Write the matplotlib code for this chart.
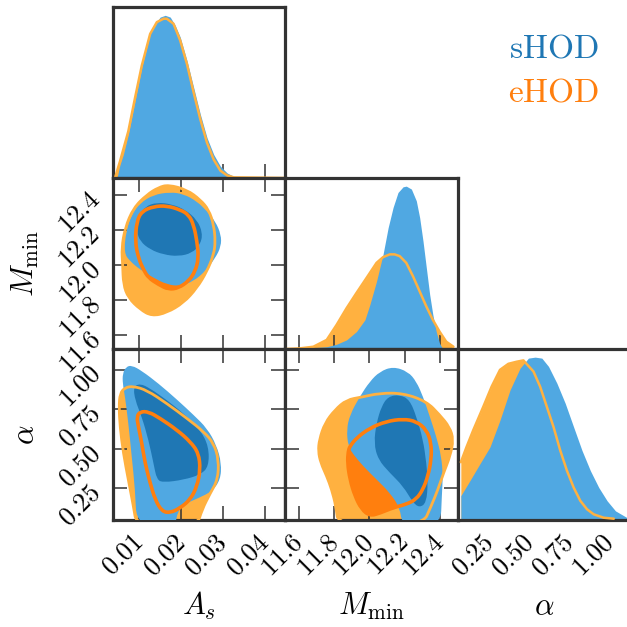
import matplotlib
matplotlib.use('Agg')
import matplotlib.pyplot as plt
from matplotlib.patches import PathPatch
from matplotlib.path import Path

plt.rcParams['mathtext.fontset'] = 'cm'
plt.rcParams['font.family'] = 'serif'
plt.rcParams['font.serif'] = ['DejaVu Serif']

# ---------------- data ----------------
param_labels = [r'$A_s$', r'$M_{\rm min}$', r'$\alpha$']
series_names = ['sHOD', 'eHOD']

as_ticks = [0.01, 0.02, 0.03, 0.04]
as_ticklabels = ['0.01', '0.02', '0.03', '0.04']
mmin_ticks = [11.6, 11.8, 12.0, 12.2, 12.4]
mmin_ticklabels = ['11.6', '11.8', '12.0', '12.2', '12.4']
alpha_ticks = [0.25, 0.50, 0.75, 1.00]
alpha_ticklabels = ['0.25', '0.50', '0.75', '1.00']
as_range = [0.0038, 0.0448]
mmin_range = [11.52, 12.50]
alpha_range = [0.05, 1.13]

# 1D marginals (normalised to peak = 1)
shod_as_x = [0.00483, 0.00547, 0.00626, 0.00745, 0.00905, 0.01064, 0.01183, 0.01263,
             0.01382, 0.01501, 0.01620, 0.01740, 0.01859, 0.01978, 0.02138, 0.02297,
             0.02456, 0.02615, 0.02774, 0.02933, 0.03092, 0.03251, 0.03490]
shod_as_p = [0.010, 0.082, 0.144, 0.268, 0.474, 0.679, 0.803, 0.885, 0.947, 0.988, 0.999,
             0.988, 0.937, 0.865, 0.721, 0.556, 0.391, 0.247, 0.144, 0.072, 0.031, 0.010, 0.0]
ehod_as_x = [0.00427, 0.00547, 0.00745, 0.00905, 0.01064, 0.01263, 0.01422, 0.01581,
             0.01660, 0.01819, 0.01978, 0.02138, 0.02297, 0.02456, 0.02615, 0.02774,
             0.02933, 0.03092, 0.03251, 0.04444]
ehod_as_p = [0.0, 0.103, 0.288, 0.494, 0.690, 0.885, 0.957, 0.978, 0.978, 0.947, 0.844,
             0.700, 0.525, 0.360, 0.216, 0.113, 0.045, 0.016, 0.004, 0.0]

shod_mmin_x = [11.606, 11.681, 11.757, 11.813, 11.870, 11.926, 11.974, 12.002, 12.040,
               12.077, 12.106, 12.134, 12.162, 12.191, 12.209, 12.238, 12.266, 12.285,
               12.304, 12.323, 12.342, 12.360, 12.379, 12.398, 12.417]
shod_mmin_p = [0.004, 0.008, 0.014, 0.029, 0.056, 0.107, 0.179, 0.272, 0.416, 0.581,
               0.745, 0.869, 0.961, 0.996, 1.0, 0.982, 0.910, 0.807, 0.663, 0.498,
               0.334, 0.210, 0.107, 0.035, 0.0]
ehod_mmin_x = [11.530, 11.606, 11.681, 11.757, 11.813, 11.870, 11.926, 11.983, 12.040,
               12.077, 12.115, 12.143, 12.172, 12.209, 12.247, 12.285, 12.323, 12.360,
               12.398, 12.436, 12.477]
ehod_mmin_p = [0.0, 0.004, 0.014, 0.056, 0.148, 0.251, 0.344, 0.436, 0.529, 0.564, 0.581,
               0.581, 0.570, 0.529, 0.447, 0.354, 0.261, 0.179, 0.107, 0.045, 0.014]

shod_alpha_x = [0.0677, 0.1243, 0.1871, 0.25, 0.3129, 0.3757, 0.4386, 0.4910, 0.5329,
                0.5748, 0.6167, 0.6691, 0.7215, 0.7739, 0.8263, 0.8787, 0.9311, 0.9835,
                1.0359, 1.1092]
shod_alpha_p = [0.149, 0.241, 0.345, 0.448, 0.613, 0.798, 0.932, 0.994, 1.0, 0.994,
                0.943, 0.840, 0.716, 0.571, 0.427, 0.303, 0.200, 0.118, 0.056, 0.014]
ehod_alpha_x = [0.0677, 0.1033, 0.1452, 0.2081, 0.2605, 0.3129, 0.3653, 0.4176, 0.4596,
                0.5224, 0.5643, 0.6063, 0.6482, 0.6901, 0.7320, 0.7739, 0.8158, 0.8577,
                0.8996, 0.9625, 1.0254]
ehod_alpha_p = [0.355, 0.448, 0.551, 0.695, 0.819, 0.922, 0.959, 0.972, 0.980, 0.912,
                0.819, 0.695, 0.571, 0.427, 0.303, 0.200, 0.118, 0.066, 0.035, 0.014, 0.008]

# 2D credible regions (68% and 95%), outlines
# --- A_s vs M_min
shod_as_mmin_95_x = [0.00642, 0.00690, 0.00825, 0.01024, 0.01342, 0.01740, 0.02058, 0.02376,
                     0.02615, 0.02814, 0.02949, 0.02949, 0.02814, 0.02575, 0.02297, 0.01978,
                     0.01660, 0.01342, 0.01024, 0.00785]
shod_as_mmin_95_y = [12.070, 12.194, 12.290, 12.356, 12.404, 12.419, 12.408, 12.366, 12.309,
                     12.251, 12.175, 12.109, 12.042, 11.966, 11.909, 11.880, 11.890, 11.928,
                     11.975, 12.023]
shod_as_mmin_68_x = [0.00944, 0.00984, 0.01143, 0.01422, 0.01780, 0.02098, 0.02376, 0.02511,
                     0.02456, 0.02257, 0.01939, 0.01581, 0.01263, 0.01024]
shod_as_mmin_68_y = [12.194, 12.280, 12.337, 12.360, 12.350, 12.318, 12.261, 12.185, 12.118,
                     12.070, 12.051, 12.061, 12.090, 12.137]
ehod_as_mmin_95_x = [0.0170, 0.02138, 0.02456, 0.02655, 0.02774, 0.02814, 0.02774, 0.02615,
                     0.02376, 0.02058, 0.01660, 0.01302, 0.01024, 0.00745, 0.00626, 0.00610,
                     0.00586, 0.00666, 0.00865, 0.01183, 0.01461]
ehod_as_mmin_95_y = [12.461, 12.432, 12.375, 12.318, 12.232, 12.137, 12.061, 11.966, 11.870,
                     11.785, 11.728, 11.709, 11.747, 11.813, 11.890, 12.004, 12.099, 12.213,
                     12.328, 12.404, 12.446]
ehod_as_mmin_68_x = [0.00905, 0.00944, 0.01064, 0.01342, 0.01660, 0.01978, 0.02177, 0.02297,
                     0.02376, 0.02416, 0.02336, 0.02177, 0.01939, 0.01700, 0.01461, 0.01223,
                     0.01103, 0.00984]
ehod_as_mmin_68_y = [12.137, 12.251, 12.309, 12.337, 12.341, 12.318, 12.290, 12.232, 12.137,
                     12.042, 11.966, 11.909, 11.870, 11.861, 11.890, 11.928, 11.975, 12.042]

# --- A_s vs alpha
shod_as_alpha_95_x = [0.00610, 0.00690, 0.00825, 0.01064, 0.01461, 0.01899, 0.02297, 0.02615,
                      0.02838, 0.02957, 0.02933, 0.02734, 0.02416, 0.02098, 0.01915, 0.01859,
                      0.00944, 0.00905, 0.00825, 0.00745, 0.00666, 0.00610]
shod_as_alpha_95_y = [0.975, 1.017, 1.027, 0.992, 0.912, 0.811, 0.713, 0.629, 0.524, 0.409,
                      0.304, 0.231, 0.189, 0.153, 0.105, 0.011, 0.011, 0.241, 0.451, 0.661,
                      0.828, 0.912]
shod_as_alpha_68_x = [0.00865, 0.01024, 0.01263, 0.01660, 0.02058, 0.02456, 0.02655, 0.02655,
                      0.02456, 0.02058, 0.01581, 0.01422, 0.01342, 0.01223, 0.01064, 0.00905]
shod_as_alpha_68_y = [0.891, 0.912, 0.881, 0.807, 0.723, 0.619, 0.514, 0.388, 0.336, 0.304,
                      0.287, 0.304, 0.409, 0.556, 0.702, 0.807]
ehod_as_alpha_95_x = [0.00547, 0.00666, 0.00865, 0.01183, 0.01660, 0.02138, 0.02535, 0.02774,
                      0.02893, 0.02869, 0.02694, 0.02496, 0.02376, 0.00944, 0.00865, 0.00745,
                      0.00626, 0.00547, 0.00523]
ehod_as_alpha_95_y = [0.849, 0.887, 0.895, 0.870, 0.786, 0.692, 0.608, 0.535, 0.430, 0.304,
                      0.220, 0.116, 0.011, 0.011, 0.137, 0.304, 0.472, 0.640, 0.765]
ehod_as_alpha_68_x = [0.00944, 0.01024, 0.01223, 0.01501, 0.01899, 0.02217, 0.02416, 0.02456,
                      0.02376, 0.02217, 0.01978, 0.01740, 0.01541, 0.01382, 0.01263, 0.01143,
                      0.01064, 0.00984]
ehod_as_alpha_68_y = [0.702, 0.734, 0.734, 0.692, 0.619, 0.545, 0.472, 0.367, 0.262, 0.179,
                      0.126, 0.095, 0.105, 0.179, 0.283, 0.409, 0.535, 0.640]

# --- M_min vs alpha
shod_mmin_alpha_95_x = [11.879, 11.870, 11.889, 11.945, 12.002, 12.058, 12.134, 12.219, 12.266,
                        12.304, 12.342, 12.379, 12.408, 12.417, 12.411, 12.404, 12.187, 12.172,
                        12.115, 12.040, 11.964, 11.908]
shod_mmin_alpha_95_y = [0.516, 0.621, 0.715, 0.830, 0.925, 0.987, 1.019, 0.987, 0.925, 0.830,
                        0.705, 0.579, 0.453, 0.327, 0.202, 0.013, 0.013, 0.128, 0.223, 0.306,
                        0.390, 0.464]
shod_mmin_alpha_68_x = [12.040, 12.068, 12.106, 12.172, 12.228, 12.266, 12.304, 12.323, 12.332,
                        12.323, 12.285, 12.247, 12.191, 12.115, 12.049, 12.025]
shod_mmin_alpha_68_y = [0.663, 0.767, 0.830, 0.841, 0.809, 0.705, 0.558, 0.411, 0.285, 0.160,
                        0.128, 0.160, 0.264, 0.348, 0.432, 0.537]
ehod_mmin_alpha_95_x = [11.715, 11.747, 11.804, 11.870, 11.955, 12.058, 12.191, 12.323, 12.398,
                        12.455, 12.477, 12.458, 12.421, 12.389, 12.351, 12.300, 11.823, 11.809,
                        11.785, 11.757, 11.723, 11.709]
ehod_mmin_alpha_95_y = [0.558, 0.663, 0.746, 0.809, 0.826, 0.851, 0.851, 0.799, 0.715, 0.637,
                        0.558, 0.453, 0.348, 0.243, 0.139, 0.013, 0.013, 0.139, 0.243, 0.327,
                        0.411, 0.484]
ehod_mmin_alpha_68_x = [11.889, 11.926, 12.002, 12.096, 12.191, 12.266, 12.323, 12.351, 12.351,
                        12.332, 12.304, 12.266, 12.209, 12.134, 12.058, 12.002, 11.955, 11.917,
                        11.889, 11.875, 11.879]
ehod_mmin_alpha_68_y = [0.516, 0.568, 0.631, 0.673, 0.688, 0.673, 0.621, 0.537, 0.432, 0.327,
                        0.243, 0.181, 0.149, 0.128, 0.093, 0.076, 0.118, 0.202, 0.306, 0.411,
                        0.484]

# ---------------- style ----------------
blue_dark, blue_light = '#1f77b4', '#50a8e2'
orange_dark, orange_light = '#ff7f0e', '#ffb140'
spine_col = '#333333'

fig = plt.figure(figsize=(6.27, 6.27), dpi=100)
PX = 627.0
col_left = [113, 285, 458]
row_top = [7, 178, 349]
PW, PH = 172.5, 171.0


def make_ax(c, r):
    return fig.add_axes([col_left[c] / PX, 1 - (row_top[r] + PH) / PX, PW / PX, PH / PX])


ranges = [as_range, mmin_range, alpha_range]
ticks = [as_ticks, mmin_ticks, alpha_ticks]
ticklabels = [as_ticklabels, mmin_ticklabels, alpha_ticklabels]
m1d = {0: (shod_as_x, shod_as_p, ehod_as_x, ehod_as_p),
       1: (shod_mmin_x, shod_mmin_p, ehod_mmin_x, ehod_mmin_p),
       2: (shod_alpha_x, shod_alpha_p, ehod_alpha_x, ehod_alpha_p)}
m2d = {(0, 1): (shod_as_mmin_95_x, shod_as_mmin_95_y, shod_as_mmin_68_x, shod_as_mmin_68_y,
                ehod_as_mmin_95_x, ehod_as_mmin_95_y, ehod_as_mmin_68_x, ehod_as_mmin_68_y),
       (0, 2): (shod_as_alpha_95_x, shod_as_alpha_95_y, shod_as_alpha_68_x, shod_as_alpha_68_y,
                ehod_as_alpha_95_x, ehod_as_alpha_95_y, ehod_as_alpha_68_x, ehod_as_alpha_68_y),
       (1, 2): (shod_mmin_alpha_95_x, shod_mmin_alpha_95_y, shod_mmin_alpha_68_x, shod_mmin_alpha_68_y,
                ehod_mmin_alpha_95_x, ehod_mmin_alpha_95_y, ehod_mmin_alpha_68_x, ehod_mmin_alpha_68_y)}

TFS = 19
tick_kw = dict(direction='in', length=10, width=1.1, color=spine_col, labelsize=TFS)


def style_spines(ax):
    for s in ax.spines.values():
        s.set_linewidth(2.3)
        s.set_color(spine_col)


def smooth_region(ax, xs, ys, **kw):
    """Closed outline drawn with quadratic Bezier segments (vertices act as control points)."""
    n = len(xs)
    verts, codes = [], []
    mx = [(xs[i] + xs[(i + 1) % n]) / 2 for i in range(n)]
    my = [(ys[i] + ys[(i + 1) % n]) / 2 for i in range(n)]
    verts.append((mx[-1], my[-1]))
    codes.append(Path.MOVETO)
    for i in range(n):
        verts += [(xs[i], ys[i]), (mx[i], my[i])]
        codes += [Path.CURVE3, Path.CURVE3]
    verts.append((mx[-1], my[-1]))
    codes.append(Path.CLOSEPOLY)
    ax.add_patch(PathPatch(Path(verts, codes), **kw))


for r in range(3):
    for c in range(r + 1):
        ax = make_ax(c, r)
        style_spines(ax)
        ax.set_xlim(ranges[c])
        ax.set_xticks(ticks[c])
        if c == r:
            sx, sp, ex, ep = m1d[c]
            ax.fill_between(ex, ep, 0, color=orange_light, lw=0, zorder=1)
            ax.fill_between(sx, sp, 0, color=blue_light, lw=0, zorder=2)
            ax.plot(ex, ep, color=orange_light, lw=1.8, zorder=3, solid_capstyle='round')
            ax.set_ylim(0, 1.05)
            ax.set_yticks([])
            ax.tick_params(axis='x', bottom=True, top=False, **tick_kw)
        else:
            (s95x, s95y, s68x, s68y, e95x, e95y, e68x, e68y) = m2d[(c, r)]
            smooth_region(ax, e95x, e95y, fc=orange_light, ec='none', zorder=1)
            smooth_region(ax, e68x, e68y, fc=orange_dark, ec='none', zorder=2)
            smooth_region(ax, s95x, s95y, fc=blue_light, ec='none', zorder=3)
            smooth_region(ax, s68x, s68y, fc=blue_dark, ec='none', zorder=4)
            smooth_region(ax, e95x, e95y, fc='none', ec=orange_light, lw=2.0, zorder=5)
            smooth_region(ax, e68x, e68y, fc='none', ec=orange_dark, lw=2.6, zorder=6)
            ax.set_ylim(ranges[r])
            ax.set_yticks(ticks[r])
            ax.tick_params(axis='both', bottom=True, top=True, left=True, right=True, **tick_kw)
            if c == 0:
                ax.set_yticklabels(['$' + t + '$' for t in ticklabels[r]], rotation=45,
                                   ha='right', va='center', rotation_mode='anchor')
                ax.tick_params(axis='y', pad=12)
            else:
                ax.tick_params(axis='y', labelleft=False)
        if r == 2:
            ax.set_xticklabels(['$' + t + '$' for t in ticklabels[c]], rotation=45,
                               ha='right', va='center', rotation_mode='anchor')
            ax.tick_params(axis='x', pad=13)
        else:
            ax.tick_params(axis='x', labelbottom=False)

LFS = 22
col_center = [(l + PW / 2) / PX for l in col_left]
for c in range(3):
    fig.text(col_center[c], 1 - 615 / PX, param_labels[c], fontsize=LFS, ha='center', va='baseline')
for r, lab in [(1, param_labels[1]), (2, param_labels[2])]:
    fig.text(34 / PX, 1 - (row_top[r] + PH / 2) / PX, lab, fontsize=LFS, rotation=90,
             ha='center', va='baseline', rotation_mode='anchor')

fig.text(554 / PX, 1 - 58 / PX, r'$\mathrm{sHOD}$', color=blue_dark, fontsize=24,
         ha='center', va='baseline')
fig.text(554 / PX, 1 - 101 / PX, r'$\mathrm{eHOD}$', color=orange_dark, fontsize=24,
         ha='center', va='baseline')

fig.savefig('out.png', dpi=100)
